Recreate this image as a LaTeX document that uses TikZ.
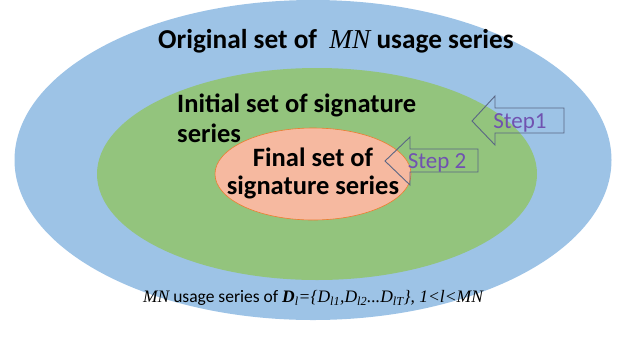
\documentclass[tikz,border=0pt]{standalone}
\usepackage{fontspec}
\setmainfont{Carlito}
\newfontfamily\timesfont{Liberation Serif}
\usetikzlibrary{shapes.geometric,positioning}
\definecolor{setblue}{RGB}{157,195,230}
\definecolor{setgreen}{RGB}{147,196,125}
\definecolor{setsalmon}{RGB}{246,185,160}
\definecolor{setorange}{RGB}{237,125,49}
\definecolor{steppurple}{RGB}{112,82,176}
\definecolor{stepline}{RGB}{90,102,132}
\newcommand{\tm}[1]{{\timesfont\itshape #1}}

\begin{document}
\begin{tikzpicture}[x=1pt,y=-1pt,
				every node/.style={inner sep=0pt},
				setbox/.style={ellipse,draw=none},
				settext/.style={font=\fontsize{26.5}{29}\selectfont\bfseries},
				steptext/.style={font=\fontsize{23}{27}\selectfont,text=steppurple},
				stepshape/.style={draw=stepline,line width=0.9pt,line join=miter}]
				\useasboundingbox (0,0) rectangle (620,341);
				% nested sets
				\node[setbox,fill=setblue,minimum width=597pt,minimum height=320pt] (orig) at (313,160) {};
				\node[setbox,fill=setgreen,minimum width=440pt,minimum height=212pt] (init) at (317,174) {};
				\node[setbox,fill=setsalmon,draw=setorange,line width=0.6pt,minimum width=196pt,minimum height=92pt] (final) at (313,174) {};
				% labels
				\node[settext,anchor=base,font=\fontsize{27.3}{30}\selectfont\bfseries] (origlbl) at (336,48) {Original set of\ \ \tm{\mdseries MN} usage series};
				\node[settext,align=left,anchor=north west,font=\fontsize{26.5}{30}\selectfont\bfseries] (initlbl) at (177,94) {Initial set of signature\\series};
				\node[settext,align=center,font=\fontsize{26.5}{28}\selectfont\bfseries] (finallbl) at (313,173) {Final set of\\signature series};
				\node[font=\fontsize{17.5}{20}\selectfont] (dset) at (313,298)
					{\tm{MN} usage series of \tm{\bfseries D\textsubscript{\mdseries l}}\tm{=\{D\textsubscript{l1},D\textsubscript{l2}...D\textsubscript{lT}\}, 1<l<MN}};
				% step arrows
				\coordinate (s1tip) at (472,121);
				\draw[stepshape] (s1tip) -- (495,96) -- (495,108) -- (564,108) -- (564,133) -- (495,133) -- (495,145) -- cycle;
				\node[steptext] (s1) at (520,123) {Step1};
				\coordinate (s2tip) at (385,161);
				\draw[stepshape] (s2tip) -- (410,137) -- (410,149) -- (478,149) -- (478,172) -- (410,172) -- (410,185) -- cycle;
				\node[steptext] (s2) at (437,163) {Step 2};
			\end{tikzpicture}
\end{document}
